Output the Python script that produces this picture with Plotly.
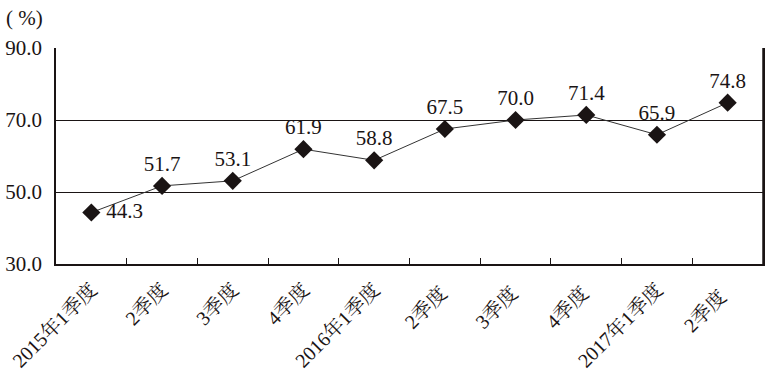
import plotly.graph_objects as go

categories = ["2015年1季度", "2季度", "3季度", "4季度", "2016年1季度", "2季度 ", "3季度 ", "4季度 ", "2017年1季度", "2季度  "]
values = [44.3, 51.7, 53.1, 61.9, 58.8, 67.5, 70.0, 71.4, 65.9, 74.8]
label_pos = ["middle right"] + ["top center"] * 9
y_ticks = [30, 50, 70, 90]

FONT = "Liberation Serif, Times New Roman, Noto Serif CJK SC, Noto Sans CJK SC, serif"

labels = [f"{v:.1f}" for v in values]
labels[0] = " " + labels[0]

fig = go.Figure()
fig.add_trace(go.Scatter(
    x=categories, y=values, mode="lines+markers+text",
    line=dict(color="#333333", width=1),
    marker=dict(symbol="diamond", size=14, color="#1a1414"),
    text=labels, textposition=label_pos,
    textfont=dict(family=FONT, size=21, color="#1a1414"),
    cliponaxis=False, showlegend=False,
))

fig.update_layout(
    width=770, height=378,
    margin=dict(l=56, r=5, t=48, b=114),
    paper_bgcolor="white", plot_bgcolor="white",
    font=dict(family=FONT, color="#1a1414"),
    xaxis=dict(
        type="category", range=[-0.5, 9.5],
        tickson="boundaries", ticks="inside", ticklen=6, tickcolor="#1a1414",
        tickangle=-45, tickfont=dict(size=20, family=FONT),
        showline=True, linecolor="#1a1414", linewidth=2, mirror=False,
        showgrid=False, ticklabelstandoff=4,
    ),
    yaxis=dict(
        range=[30, 90], tickvals=y_ticks, ticktext=[f"{v:.1f}" for v in y_ticks],
        tickfont=dict(size=21, family=FONT),
        showline=True, linecolor="#1a1414", linewidth=1.5, mirror=True,
        showgrid=True, gridcolor="#1a1414", gridwidth=1,
        zeroline=False, ticks="", ticklabelstandoff=8,
    ),
    annotations=[dict(
        text="( %)", x=0, y=1, xref="paper", yref="paper",
        xanchor="left", yanchor="bottom", xshift=-52, yshift=16,
        showarrow=False, font=dict(size=21, family=FONT),
    )],
)
fig.add_shape(type="line", xref="paper", yref="paper", x0=1, x1=1, y0=0, y1=1,
              line=dict(color="#1a1414", width=1.5))

fig.write_html("out.html")
